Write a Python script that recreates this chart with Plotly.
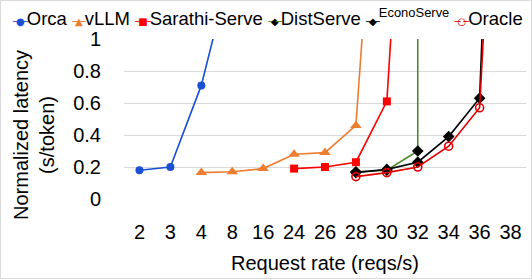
import plotly.graph_objects as go

categories = ["2", "3", "4", "8", "16", "24", "26", "28", "30", "32", "34", "36", "38"]

orca_x = ["2", "3", "4", "8"]
orca_y = [0.18, 0.20, 0.71, 1.48]

vllm_x = ["4", "8", "16", "24", "26", "28", "30"]
vllm_y = [0.165, 0.17, 0.19, 0.28, 0.29, 0.46, 3.2]

sarathi_x = ["24", "26", "28", "30", "32"]
sarathi_y = [0.19, 0.20, 0.23, 0.61, 3.7]

dist_x = ["28", "30", "32", "32"]
dist_y = [0.17, 0.18, 0.30, 3.0]

econo_x = ["28", "30", "32", "34", "36", "38"]
econo_y = [0.165, 0.185, 0.23, 0.39, 0.63, 5.6]

oracle_x = ["28", "30", "32", "34", "36", "38"]
oracle_y = [0.14, 0.165, 0.20, 0.33, 0.57, 4.2]

y_ticks = [0, 0.2, 0.4, 0.6, 0.8, 1]
y_ticktext = ["0", "0.2", "0.4", "0.6", "0.8", "1"]

FONT = "Liberation Sans, Arial, sans-serif"

series = [
    dict(name="Orca", x=orca_x, y=orca_y, line="#1A4FD6", marker="#1A4FD6",
         symbol="circle", size=8, glyph="●", open=False),
    dict(name="vLLM", x=vllm_x, y=vllm_y, line="#ED7D31", marker="#ED7D31",
         symbol="triangle-up", size=10, glyph="▲", open=False),
    dict(name="Sarathi-Serve", x=sarathi_x, y=sarathi_y, line="#FF0000", marker="#FF0000",
         symbol="square", size=8, glyph="■", open=False),
    dict(name="DistServe", x=dist_x, y=dist_y, line="#4E8A2E", marker="#000000",
         symbol="diamond", size=9, glyph="◆", open=False),
    dict(name="EconoServe", x=econo_x, y=econo_y, line="#000000", marker="#000000",
         symbol="diamond", size=9, glyph="◆", open=False),
    dict(name="Oracle", x=oracle_x, y=oracle_y, line="#E00000", marker="#E00000",
         symbol="circle-open", size=8, glyph="○", open=True),
]

fig = go.Figure()
for s in series:
    fig.add_trace(go.Scatter(
        x=s["x"], y=s["y"], mode="lines+markers", name=s["name"],
        line=dict(color=s["line"], width=1.6),
        marker=dict(symbol=s["symbol"], size=s["size"], color=s["marker"],
                    line=dict(width=1.6 if s["open"] else 0, color=s["marker"])),
        showlegend=False,
    ))

# legend built as text
parts = []
for s in series:
    g = (f"<span style='font-size:10px;letter-spacing:-3px;font-family:DejaVu Sans;color:{s['line']}'>─</span>"
         f"<span style='font-size:10px;letter-spacing:-3px;font-family:DejaVu Sans;color:{s['marker']}'>{s['glyph']}</span>"
         f"<span style='font-size:10px;letter-spacing:-1px;font-family:DejaVu Sans;color:{s['line']}'>─</span>")
    label = f"<sup>{s['name']}</sup>" if s["name"] == "EconoServe" else s["name"]
    parts.append(g + label)
legend_text = " ".join(parts)

L, R, T, B = 124, 6, 39, 80
W, H = 532, 279
pw, ph = W - L - R, H - T - B

fig.add_annotation(text=legend_text, xref="paper", yref="paper",
                   x=(267 - L) / pw, y=1 + (T - 17) / ph, xanchor="center", yanchor="middle",
                   showarrow=False, font=dict(family=FONT, size=18.5, color="#000000"))

fig.add_annotation(text="Normalized latency<br>(s/token)", xref="paper", yref="paper",
                   x=(34 - L) / pw, y=(H - B - 135) / ph, xanchor="center", yanchor="middle",
                   textangle=-90, showarrow=False,
                   font=dict(family=FONT, size=20, color="#000000"))

fig.add_annotation(text="Request rate (reqs/s)", xref="paper", yref="paper",
                   x=0.5, y=(H - B - 263) / ph, xanchor="center", yanchor="middle",
                   showarrow=False, font=dict(family=FONT, size=20, color="#000000"))

fig.add_shape(type="rect", xref="paper", yref="paper",
              x0=(0.5 - L) / pw, x1=(W - 0.5 - L) / pw,
              y0=(H - B - (H - 0.5)) / ph, y1=(H - B - 0.5) / ph,
              line=dict(color="#D9D9D9", width=1), fillcolor="rgba(0,0,0,0)", layer="below")

fig.update_layout(
    width=W, height=H,
    margin=dict(l=L, r=R, t=T, b=B, pad=0),
    paper_bgcolor="#FFFFFF", plot_bgcolor="#FFFFFF",
    font=dict(family=FONT, size=20, color="#000000"),
    showlegend=False,
)
fig.update_xaxes(type="category", categoryorder="array", categoryarray=categories,
                 range=[-0.5, len(categories) - 0.5], showgrid=False, zeroline=False,
                 showline=False, ticks="", ticklabelstandoff=19,
                 tickfont=dict(family=FONT, size=20, color="#000000"))
fig.update_yaxes(range=[0, 1], tickvals=y_ticks, ticktext=y_ticktext,
                 showgrid=True, gridcolor="#D9D9D9", gridwidth=1, zeroline=False,
                 showline=False, ticks="", ticklabelstandoff=22,
                 tickfont=dict(family=FONT, size=20, color="#000000"))

fig.write_html("out.html", config={"displayModeBar": False, "staticPlot": True},
               post_script="document.body.style.margin='0';document.body.style.padding='0';document.body.style.overflow='hidden';")
